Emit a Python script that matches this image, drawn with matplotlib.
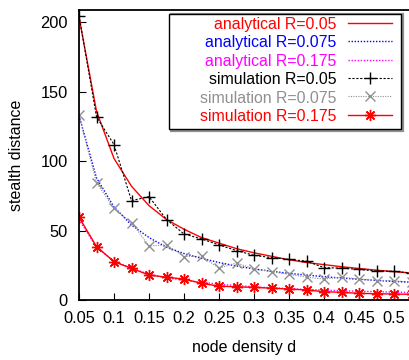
import numpy as np
import matplotlib
matplotlib.use("Agg")
import matplotlib.pyplot as plt
from matplotlib.patches import Rectangle

plt.rcParams['font.family'] = ['Liberation Sans', 'DejaVu Sans']

# node density values (every 0.025)
d = [0.05, 0.075, 0.1, 0.125, 0.15, 0.175, 0.2, 0.225, 0.25, 0.275, 0.3,
     0.325, 0.35, 0.375, 0.4, 0.425, 0.45, 0.475, 0.5, 0.525]

ana_005 = [204, 136, 102, 82, 68, 58, 51, 45, 41, 37, 34,
           31.5, 29, 27, 25.5, 24, 22.7, 21.5, 20.4, 19.4]
ana_0075 = [133, 88, 67, 54, 45, 38, 33.5, 30, 27, 24.5, 22.4,
            20.7, 19.2, 18, 16.8, 15.8, 14.9, 14.1, 13.4, 12.8]
ana_0175 = [58, 38, 28, 23, 18.5, 16, 14.3, 12.7, 11.4, 10.4, 9.5,
            8.8, 8.2, 7.6, 7.1, 6.7, 6.3, 6.0, 5.7, 5.4]
sim_005 = [205, 132, 112, 71.6, 74.5, 58, 47.6, 44, 39.7, 35.6, 32.2,
           30.5, 29.3, 28, 23.3, 23, 22, 20.9, 20.7, 19.5]
sim_0075 = [133, 84.6, 66, 55.8, 39, 39.7, 31.3, 31.5, 23, 26.7, 22.4,
            20.4, 18.5, 16.4, 15.1, 16.4, 15.1, 14, 13.7, 13]
sim_0175 = [59.7, 38.5, 27.6, 22.8, 18, 16.4, 15.1, 12, 10, 9.5, 9.1,
            8.5, 7.9, 7.2, 6, 5.5, 4.8, 4.5, 4.3, 4.1]

xticks = [0.05, 0.1, 0.15, 0.2, 0.25, 0.3, 0.35, 0.4, 0.45, 0.5]
xticklabels = ['0.05', '0.1', '0.15', '0.2', '0.25', '0.3', '0.35', '0.4', '0.45', '0.5']
yticks = [0, 50, 100, 150, 200]

W, H = 409, 360
fig = plt.figure(figsize=(W / 100, H / 100), dpi=100)
ax = fig.add_axes([79 / W, 1 - 300 / H, 1 - 79 / W, 290 / H])

ax.plot(d, ana_005, color='#ff0000', lw=1.0, label='analytical R=0.05')
ax.plot(d, ana_0075, color='#0000ff', lw=1.0, ls=(0, (1, 1.2)), label='analytical R=0.075')
ax.plot(d, ana_0175, color='#ff00ff', lw=1.0, ls=(0, (1, 1.2)), label='analytical R=0.175')
ax.plot(d, sim_005, color='black', lw=0.8, ls=(0, (2, 1.5)), marker='+', ms=8.5, mew=1.0,
        label='simulation R=0.05')
ax.plot(d, sim_0075, color='#909090', lw=0.8, ls=(0, (1, 1.2)), marker='x', ms=7, mew=1.0,
        label='simulation R=0.075')
ax.plot(d, sim_0175, color='#ff0000', lw=1.0, marker=(8, 2, 0), ms=8, mew=1.0,
        label='simulation R=0.175')

ax.set_xlim(0.05, 0.5214)
ax.set_ylim(0, 209)
ax.set_xticks(xticks)
ax.set_xticklabels(xticklabels)
ax.set_yticks(yticks)
ax.tick_params(direction='in', length=5, labelsize=11.8, pad=8, top=False, right=False)
ax.spines['right'].set_visible(False)
for s in ['left', 'bottom', 'top']:
    ax.spines[s].set_linewidth(1.3)

ax.set_xlabel('node density d', fontsize=11.5, labelpad=10)
ax.set_ylabel('stealth distance', fontsize=11.5, labelpad=12)

# legend frame drawn separately (gnuplot style wide key box)
ax.add_patch(Rectangle((171 / W, 1 - 131 / H), 232 / W, 117 / H,
                       transform=fig.transFigure, facecolor='none',
                       edgecolor='#909090', lw=1.6, zorder=4.4, clip_on=False))
ax.add_patch(Rectangle((169 / W, 1 - 129 / H), 232 / W, 115 / H,
                       transform=fig.transFigure, facecolor='white',
                       edgecolor='black', lw=1.0, zorder=4.5, clip_on=False))

leg_colors = ['#ff0000', '#0000ff', '#ff00ff', 'black', '#909090', '#ff0000']
leg = ax.legend(loc='upper right', bbox_to_anchor=(392 / W, 1 - 17 / H),
                bbox_transform=fig.transFigure, fontsize=11.4,
                markerfirst=False, handlelength=2.75, handletextpad=0.75,
                labelspacing=0.22, borderpad=0, frameon=False, borderaxespad=0)
leg.set_zorder(6)
for txt, c in zip(leg.get_texts(), leg_colors):
    txt.set_color(c)
    txt.set_ha('right')
for vp in leg._legend_handle_box.get_children():
    for col in vp.get_children():
        col.align = 'right'

fig.savefig('out.png', dpi=100)
